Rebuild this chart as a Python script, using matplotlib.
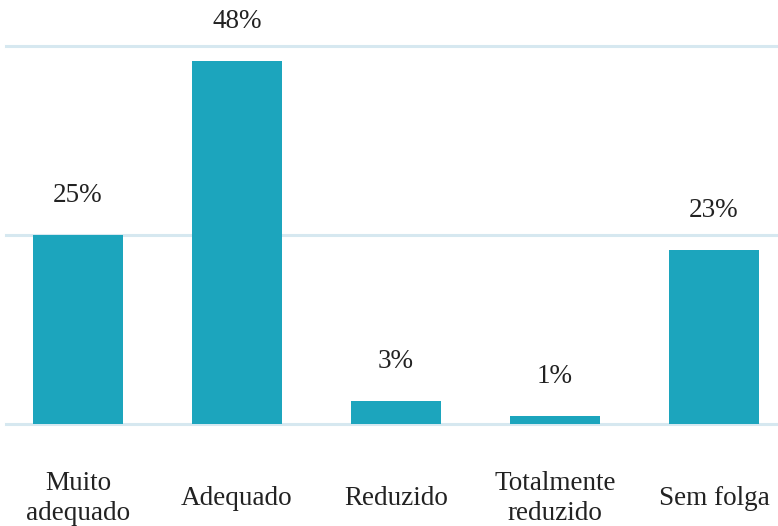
import matplotlib
matplotlib.use("Agg")
import matplotlib.pyplot as plt
from matplotlib import transforms

categories = ["Muito\nadequado", "Adequado", "Reduzido", "Totalmente\nreduzido", "Sem folga"]
values = [25, 48, 3, 1, 23]
labels = ["25%", "48%", "3%", "1%", "23%"]
grid_values = [0, 25, 50]

plt.rcParams['font.family'] = ['Liberation Serif', 'DejaVu Serif']

W, H = 778, 526
fig = plt.figure(figsize=(W/100, H/100), dpi=100)
ax = fig.add_axes([6/W, (H-424)/H, (777-6)/W, (424-46)/H])

bar_color = "#1ca5bd"
grid_color = "#d6e8f0"
text_color = "#222222"

x = list(range(len(categories)))
ax.bar(x, values, width=0.566, color=bar_color, zorder=2)
ax.set_xlim(-72/159, 4 + 63/159)
ax.set_ylim(0, 50)
for g in grid_values:
    ax.axhline(g, color=grid_color, linewidth=2.2, zorder=1, clip_on=False)
ax.tick_params(left=False, bottom=False, labelleft=False, labelbottom=False)
for s in ax.spines.values():
    s.set_visible(False)

for xi, v, lab in zip(x, values, labels):
    ax.annotate(lab, (xi, v), xytext=(0, 28.5), textcoords="offset points",
                ha="center", va="center", fontsize=19.5, color=text_color)

trans = transforms.blended_transform_factory(ax.transData, ax.transAxes)
for xi, cat in zip(x, categories):
    ax.annotate(cat, (xi, 0), xycoords=trans, xytext=(0, -53.5), textcoords="offset points",
                ha="center", va="center", fontsize=19.5, color=text_color,
                linespacing=1.25)

fig.savefig("out.png", dpi=100)
